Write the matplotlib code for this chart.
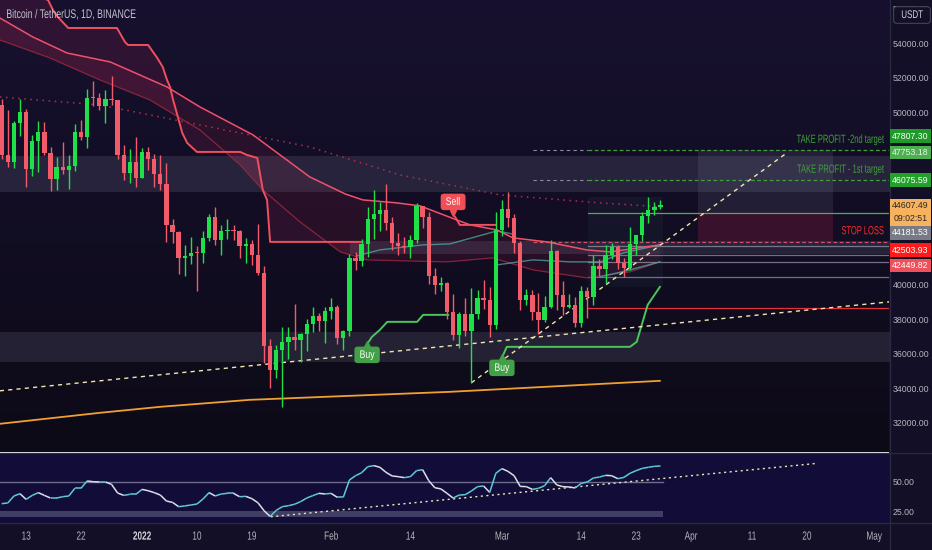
import numpy as np
import pandas as pd
import matplotlib
matplotlib.use("Agg")
import matplotlib.pyplot as plt
from matplotlib.collections import LineCollection
from matplotlib.colors import LinearSegmentedColormap
from matplotlib.lines import Line2D
from matplotlib.patches import Rectangle
from matplotlib.patheffects import AbstractPathEffect
from matplotlib.transforms import Affine2D, offset_copy

# ---- data -----------------------------------------------------------------
BASE = pd.Timestamp("2021-12-09")
DATES = pd.date_range(BASE, "2022-03-27", freq="D")

OPEN = [50441, 47545, 47140, 49389, 50054, 46702, 48343, 48864, 47632, 46131,
        46834, 46681, 46914, 48889, 48588, 50838, 50820, 50400, 50775, 50701,
        47543, 46464, 47120, 46216, 47722, 47286, 46446, 45832, 43451, 43082,
        41566, 41679, 41864, 41822, 42735, 43949, 42592, 43099, 43177, 43113,
        42250, 42375, 41744, 40680, 36445, 35071, 36244, 36660, 36958, 36809,
        37161, 37712, 38166, 37882, 38466, 38690, 36896, 37311, 41574, 41382,
        42380, 43840, 44118, 44338, 43565, 42407, 42244, 42197, 42586, 44575,
        43961, 40538, 40000, 40121, 38431, 37075, 38286, 37296, 38328, 39219,
        39116, 37699, 43160, 44421, 43892, 42454, 39148, 39397, 38420, 37988,
        38730, 41941, 39422, 38729, 38807, 37777, 39671, 39280, 41114, 40917,
        41757, 42201, 41262, 41002, 42364, 42882, 43991, 44313, 44511]
HIGH = [50797, 50125, 49485, 50777, 50189, 48700, 49500, 49436, 47995, 47392,
        48300, 47537, 49328, 49576, 51375, 51810, 51156, 51280, 52088, 50704,
        48139, 47900, 48548, 47954, 47990, 47570, 47505, 47070, 43816, 43145,
        42300, 42786, 42248, 43100, 44135, 44500, 43448, 43800, 43475, 43185,
        42690, 42579, 43505, 41100, 36835, 36499, 37550, 37545, 38919, 37234,
        38000, 38720, 38359, 38744, 39265, 38855, 37387, 41772, 41913, 42657,
        44500, 45492, 44799, 45821, 43920, 43000, 42760, 42876, 44775, 44583,
        44200, 40959, 40444, 40140, 39494, 38429, 39249, 39843, 39683, 40300,
        39855, 44225, 44949, 45400, 44101, 42527, 39750, 39693, 39547, 39362,
        42594, 42039, 40236, 39486, 39309, 39947, 39887, 41718, 41478, 42325,
        42400, 42296, 41544, 43361, 42893, 44220, 45094, 44792, 44950]
LOW = [47320, 46852, 46751, 48638, 45672, 46290, 46547, 47511, 45456, 45500,
       46406, 45558, 46630, 48421, 47920, 50384, 50142, 49412, 50449, 47313,
       46096, 45900, 45678, 46208, 46654, 45696, 45502, 42500, 42430, 40610,
       40501, 41200, 39650, 41268, 42529, 42311, 41725, 42650, 42581, 41540,
       41250, 41138, 40553, 35440, 34008, 34601, 32917, 35701, 36234, 35507,
       36155, 37268, 37351, 36632, 38000, 36586, 36250, 37026, 40843, 41116,
       41645, 42666, 43117, 43187, 42000, 41748, 41870, 41570, 42427, 43310,
       40073, 39450, 39639, 38000, 36800, 36350, 37036, 34322, 38014, 38600,
       37000, 37450, 42809, 43334, 41832, 38550, 38813, 37986, 37155, 37867,
       38656, 38539, 38224, 38660, 37578, 37555, 38098, 38828, 40500, 40135,
       41499, 40911, 40467, 40875, 41751, 42565, 43579, 44071, 44421]
CLOSE = [47545, 47140, 49389, 50054, 46702, 48343, 48864, 47632, 46131, 46834,
         46681, 46914, 48889, 48588, 50838, 50820, 50400, 50775, 50701, 47543,
         46464, 47120, 46216, 47722, 47286, 46446, 45832, 43451, 43082, 41566,
         41679, 41864, 41822, 42735, 43949, 42592, 43099, 43177, 43113, 42250,
         42375, 41744, 40680, 36445, 35071, 36244, 36660, 36958, 36809, 37161,
         37712, 38166, 37882, 38466, 38690, 36896, 37311, 41574, 41382, 42380,
         43840, 44118, 44338, 43565, 42407, 42244, 42197, 42586, 44575, 43961,
         40538, 40000, 40121, 38431, 37075, 38286, 37296, 38328, 39219, 39116,
         37699, 43160, 44421, 43892, 42454, 39148, 39397, 38420, 37988, 38730,
         41941, 39422, 38729, 38807, 37777, 39671, 39280, 41114, 40917, 41757,
         42201, 41262, 41002, 42364, 42882, 43991, 44313, 44511, 44607.49]
RSI = [31.7, 32.3, 38.1, 40.0, 35.3, 38.6, 40.9, 38.6, 36.4, 36.4,
       37.5, 38.1, 44.5, 44.5, 50.6, 50.0, 49.8, 49.8, 47.8, 40.6,
       38.6, 39.5, 39.5, 43.6, 42.5, 40.9, 38.9, 33.9, 32.8, 29.2,
       29.8, 30.6, 31.4, 35.6, 40.9, 38.1, 39.8, 40.3, 40.3, 37.5,
       37.8, 35.9, 32.5, 25.9, 21.1, 26.1, 29.2, 30.0, 31.2, 33.4,
       36.4, 38.4, 40.3, 39.8, 40.3, 37.0, 37.0, 51.4, 55.0, 57.5,
       62.5, 63.4, 62.0, 57.8, 54.8, 54.2, 53.4, 54.2, 59.2, 60.0,
       50.9, 45.0, 44.0, 40.3, 36.4, 38.9, 39.2, 42.3, 45.9, 46.4,
       41.1, 57.0, 60.9, 58.6, 55.0, 46.1, 45.9, 43.6, 44.5, 46.7,
       53.4, 47.3, 45.9, 45.6, 44.8, 48.6, 49.8, 53.1, 53.9, 55.3,
       55.0, 52.5, 53.6, 57.0, 59.2, 61.1, 62.0, 62.8, 63.1]

# indicator lines, x = days since BASE
TRAIL_DN_DAYS = [-0.3, 7.6, 8.4, 9.2, 10.9, 18.9, 20.2, 20.7, 24.0, 25.5, 26.4, 27.1,
                 27.6, 28.1, 28.7, 29.6, 30.4, 32.0, 39.1, 40.2, 41.9, 42.8, 43.5, 44.0, 59.1]
TRAIL_DN_VALS = [57500, 56521, 55942, 55536, 54898, 54898, 54087, 53913, 53913, 53159, 52637,
                 51884, 51478, 50724, 49971, 48811, 48232, 47710, 47710, 47536, 47362, 45507,
                 44927, 42493, 42493]
TRAIL_DN2_DAYS = [74.3, 75.1, 81.0]
TRAIL_DN2_VALS = [43960, 43478, 43478]
TRAIL_UP1_DAYS = [60.05, 60.7, 62.0, 63.2, 68.1, 69.1, 73.2]
TRAIL_UP1_VALS = [36638, 36986, 37391, 37855, 37855, 38261, 38261]
TRAIL_UP2_DAYS = [82.0, 82.8, 103.0, 104.1, 105.9, 107.9]
TRAIL_UP2_VALS = [35768, 36406, 36406, 36696, 38841, 39884]

MA_FAST_DAYS = [-0.3, 5.1, 10.7, 17.8, 27.1, 32.5, 41.2, 50.5, 56.3, 59.2, 64.8, 68.6,
                74.6, 76.8, 81.2, 83.8, 89.4, 95.9, 99.7, 107.9]
MA_FAST_VALS = [55478, 54377, 53449, 52928, 51478, 50319, 48696, 46261, 45275, 44927, 44754,
                44580, 43768, 43478, 43188, 42725, 42493, 42029, 41913, 42319]
MA_SLOW_DAYS = [-0.3, 7.9, 16.1, 24.3, 32.5, 39.1, 42.8, 48.9, 55.5, 59.9, 73.0, 80.5,
                87.1, 95.9, 103.0, 107.9]
MA_SLOW_VALS = [54203, 53159, 51884, 50724, 48985, 46956, 45507, 43652, 41913, 41449, 41333,
                41565, 40870, 40406, 40754, 41333]
MA_DOT_DAYS = [-0.3, 16.1, 32.5, 50.5, 65.3, 81.7, 98.1, 108.3]
MA_DOT_VALS = [50898, 50435, 49275, 48000, 46377, 45217, 44754, 44522]
TEAL1_DAYS = [58.2, 62.0, 69.1, 73.5, 81.2, 83.7]
TEAL1_VALS = [41681, 42029, 42319, 42377, 43130, 42956]
TEAL2_DAYS = [81.2, 87.1, 93.2, 98.1, 101.9, 107.9]
TEAL2_VALS = [41159, 41449, 41333, 41333, 41855, 42319]
TEAL3_DAYS = [98.1, 103.0, 107.9]
TEAL3_VALS = [40464, 40870, 41333]
ORANGE_DAYS = [-0.3, 16.1, 26.0, 40.7, 48.9, 73.5, 107.9]
ORANGE_VALS = [31942, 32580, 32928, 33333, 33449, 33797, 34435]

TREND1_DAYS = [-0.3, 145.5]
TREND1_VALS = [33855, 39014]
TREND2_DAYS = [77, 128.7]
TREND2_VALS = [34322, 47652]
RSI_TREND_DAYS = [44.1, 133.7]
RSI_TREND_VALS = [20.8, 65.3]

SIGNALS = [("Buy", 59.9, 35942), ("Sell", 74.0, 44812), ("Buy", 82.0, 35188)]

ZONES = [(-0.3, 45391, 47478), (-0.3, 35536, 37275), (57.1, 41797, 42551)]
TP2, TP2B, TP1 = 47807.30, 47753.18, 46075.59
ENTRY, LAST = 44181.53, 44607.49
SL, SL2 = 42503.93, 42449.82
GRAY_LEVELS = [42260, 41740, 41330, 40480]
RED_LEVEL = 38680
LEVEL_START, LEVEL_PRE = 96.1, 87.1
POS_START, POS_END = 114.1, 136.3

PRICE_TICKS = [32000, 34000, 36000, 38000, 40000, 50000, 52000, 54000, 56000]
TICK_DATES = ["2021-12-13", "2021-12-22", "2022-01-01", "2022-01-10", "2022-01-19",
              "2022-02-01", "2022-02-14", "2022-03-01", "2022-03-14", "2022-03-23",
              "2022-04-01", "2022-04-11", "2022-04-20", "2022-05-01"]
TICK_LABELS = ["13", "22", "2022", "10", "19", "Feb", "14", "Mar", "14", "23",
               "Apr", "11", "20", "May"]


# ---- narrow text (the chart uses a condensed face) ---------------------------
class Condense(AbstractPathEffect):
    def __init__(self, sx=0.66, anchor="left"):
        super().__init__()
        self.sx, self.anchor = sx, anchor

    def draw_path(self, renderer, gc, tpath, affine, rgbFace=None):
        ext = tpath.get_extents()
        x0 = {"left": ext.x0, "right": ext.x1, "center": 0.5 * (ext.x0 + ext.x1)}[self.anchor]
        t = Affine2D().translate(-x0, 0).scale(self.sx, 1).translate(x0, 0) + affine
        renderer.draw_path(gc, tpath, t, rgbFace)


def narrow(anchor, sx=0.66):
    return [Condense(sx, anchor)]


# ---- style ----------------------------------------------------------------
plt.rcParams["font.family"] = ["Liberation Sans", "DejaVu Sans"]
TXT = "#b2b5be"
UP, DOWN = "#1fe048", "#f25c6a"
BG = "#130f26"
FS = 8.5
SCALE_FS = 6.3

W, H = 932, 550
fig = plt.figure(figsize=(W / 100, H / 100), dpi=100, facecolor=BG)
ax = fig.add_axes([0, (H - 452.5) / H, 889 / W, 452.5 / H])
rs = fig.add_axes([0, (H - 523) / H, 889 / W, 69.5 / H], sharex=ax)
ax.set_xlim(-0.28, 145.46)
ax.set_ylim(30278, 56521)
rs.set_ylim(15.6, 73.5)

grad = LinearSegmentedColormap.from_list("bg", ["#0d0a17", "#17112f"])
ax.imshow(np.linspace(0, 1, 256).reshape(-1, 1), cmap=grad, origin="lower",
          extent=(0, 1, 0, 1), transform=ax.transAxes, aspect="auto", zorder=0)
rs.set_facecolor("#110d38")

d = np.array([(t - BASE).days for t in DATES])
o, h, l, c = map(np.array, (OPEN, HIGH, LOW, CLOSE))

# background fills from the indicators
ax.fill(np.r_[TRAIL_DN_DAYS, MA_SLOW_DAYS[:10][::-1]],
        np.r_[TRAIL_DN_VALS, MA_SLOW_VALS[:10][::-1]],
        color="#6a1c45", alpha=0.3, lw=0, zorder=1)
ax.fill(np.r_[MA_FAST_DAYS, MA_SLOW_DAYS[::-1]], np.r_[MA_FAST_VALS, MA_SLOW_VALS[::-1]],
        color="#d8304f", alpha=0.11, lw=0, zorder=1)

# zones
for x0, lo, hi in ZONES:
    ax.fill_between([x0, 146], lo, hi, color="#b8b8d8", alpha=0.13, lw=0, zorder=1.2)
ax.fill_between([POS_START, POS_END], ENTRY, TP2, color="#9aa0b8", alpha=0.12, lw=0, zorder=1.3)
ax.fill_between([POS_START, POS_END], SL, ENTRY, color="#b0204a", alpha=0.25, lw=0, zorder=1.3)
ax.fill_between([LEVEL_START, 108.4], 39884, 45101, color="#5aa0a8", alpha=0.06, lw=0, zorder=1.3)

# levels
for lvl in (TP2, TP1):
    ax.plot([LEVEL_PRE, LEVEL_START], [lvl, lvl], color="#8a8aa0", lw=0.8, ls=(0, (3, 3)), zorder=2)
    ax.plot([LEVEL_START, 146], [lvl, lvl], color="#3fa03a", lw=0.9, ls=(0, (3, 2)), zorder=2)
ax.plot([LEVEL_PRE, 146], [SL, SL], color="#d0506a", lw=0.9, ls=(0, (3, 2)), zorder=2)
ax.plot([LEVEL_START, 146], [ENTRY, ENTRY], color="#4caf50", lw=0.9, zorder=2)
for lvl in GRAY_LEVELS:
    ax.plot([LEVEL_START, 146], [lvl, lvl], color="#9a9ab4", lw=0.9, alpha=0.7, zorder=2)
ax.plot([LEVEL_START, 146], [RED_LEVEL, RED_LEVEL], color="#e0303a", lw=0.9, zorder=2)

# indicator lines
ax.plot(MA_DOT_DAYS, MA_DOT_VALS, color="#b03048", lw=1.1, ls=(0, (1, 3)), zorder=2)
ax.plot(MA_SLOW_DAYS, MA_SLOW_VALS, color="#a02840", lw=0.9, alpha=0.8, zorder=2)
ax.plot(MA_FAST_DAYS, MA_FAST_VALS, color="#f0506a", lw=1.1, zorder=2.1)
for xs, ys in ((TEAL1_DAYS, TEAL1_VALS), (TEAL2_DAYS, TEAL2_VALS), (TEAL3_DAYS, TEAL3_VALS)):
    ax.plot(xs, ys, color="#4db6ac", lw=1, alpha=0.7, zorder=2)
ax.plot(TRAIL_DN_DAYS, TRAIL_DN_VALS, color="#f0505e", lw=1.4, zorder=2.2)
ax.plot(TRAIL_DN2_DAYS, TRAIL_DN2_VALS, color="#f0505e", lw=1.4, zorder=2.2)
ax.plot(TRAIL_UP1_DAYS, TRAIL_UP1_VALS, color="#4cc55a", lw=1.4, zorder=2.2)
ax.plot(TRAIL_UP2_DAYS, TRAIL_UP2_VALS, color="#4cc55a", lw=1.4, zorder=2.2)
ax.plot(ORANGE_DAYS, ORANGE_VALS, color="#f0a030", lw=1.3, zorder=2)
ax.plot(TREND1_DAYS, TREND1_VALS, color="#f3e6b0", lw=1, ls=(0, (3, 3)), zorder=2.3)
ax.plot(TREND2_DAYS, TREND2_VALS, color="#f3e6b0", lw=1, ls=(0, (3, 3)), zorder=2.3)

# candles
up = c >= o
col = np.where(up, UP, DOWN)
ax.vlines(d, l, h, colors=col, lw=1, zorder=3)
ax.bar(d, np.maximum(np.abs(c - o), 60), bottom=np.minimum(o, c), width=0.7,
       color=col, lw=0, zorder=3.1)

# buy / sell labels
for name, x, y in SIGNALS:
    fc = "#43a047" if name == "Buy" else "#ef4f55"
    ax.text(x, y, name, ha="center", va="center", color="white", fontsize=7.8,
            path_effects=narrow("center", 0.8), zorder=6,
            bbox=dict(boxstyle="round,pad=0.3", fc=fc, ec="none"))
    dy = 8 if name == "Buy" else -8
    tr = offset_copy(ax.transData, fig=fig, x=0, y=dy, units="points")
    ax.plot([x], [y], marker="^" if name == "Buy" else "v", ms=4, color=fc,
            transform=tr, zorder=6, clip_on=False)

# target texts
for txt, lvl, colr in (("TAKE PROFIT -2nd target", TP2, "#3fa03a"),
                       ("TAKE PROFIT - 1st target", TP1, "#3fa03a"),
                       ("STOP LOSS", SL, "#ff2a2a")):
    ax.annotate(txt, xy=(144.5, lvl), xytext=(0, 7.5), textcoords="offset points",
                ha="right", va="center", color=colr, fontsize=FS,
                path_effects=narrow("right", 0.64), zorder=6)

# rsi pane
rd = np.array(RSI)
pts = np.column_stack([d, rd])
segs = np.stack([pts[:-1], pts[1:]], axis=1)
seg_col = ["#5ec9d6" if rd[i + 1] >= rd[i] else "#dcdcec" for i in range(len(rd) - 1)]
rs.add_collection(LineCollection(segs, colors=seg_col, lw=1.1, zorder=3))
rs.plot([-0.3, 108.4], [50, 50], color="#6e6e8c", lw=1, zorder=2)
rs.fill_between([-0.3, 108.4], 20.6, 25.6, color="#9a9ab8", alpha=0.35, lw=0, zorder=1)
rs.plot(RSI_TREND_DAYS, RSI_TREND_VALS, color="#f3e6b0", lw=1, ls=(0, (1.5, 2.5)), zorder=2.5)

# axes, ticks
for a in (ax, rs):
    for s in a.spines.values():
        s.set_visible(False)
    a.yaxis.tick_right()
    a.tick_params(axis="y", length=0, pad=2.5, labelcolor=TXT, labelsize=SCALE_FS)
ax.set_yticks(PRICE_TICKS)
ax.set_yticklabels([f"{v:.2f}" for v in PRICE_TICKS])
ax.tick_params(axis="x", bottom=False, labelbottom=False)
rs.set_yticks([25, 50])
rs.set_yticklabels(["25.00", "50.00"])
rs.set_xticks([(pd.Timestamp(t) - BASE).days for t in TICK_DATES])
rs.set_xticklabels(TICK_LABELS)
rs.tick_params(axis="x", length=0, pad=5.5, labelcolor=TXT, labelsize=FS)
for lab in rs.get_xticklabels():
    lab.set_path_effects(narrow("center", 0.7))
    if lab.get_text() == "2022":
        lab.set_fontweight("bold")
        lab.set_color("#d1d4dc")

# price scale labels (boxes on the scale, shifted apart like the platform does)
PRICE_LABELS = [(f"{TP2:.2f}", TP2, "#1f9a2a", "white", 14.2),
                (f"{TP2B:.2f}", TP2B, "#4caf50", "#e8f5e9", -1.4),
                (f"{TP1:.2f}", TP1, "#22a02a", "white", 0),
                (f"{LAST:.2f}", LAST, "#f7b25e", "#2a2a2a", 0),
                ("09:02:51", LAST, "#f7b25e", "#2a2a2a", -13.5),
                (f"{ENTRY:.2f}", ENTRY, "#787b86", "white", -20),
                (f"{SL:.2f}", SL, "#ff1a1a", "white", -8.5),
                (f"{SL2:.2f}", SL2, "#f0505c", "white", -23)]
for txt, val, fc, tc, shift in PRICE_LABELS:
    ypix = ax.transData.transform((0, val))[1] + shift
    fig.add_artist(Rectangle((890 / W, (ypix - 6.8) / H), 41 / W, 13.6 / H,
                             transform=fig.transFigure, fc=fc, ec="none", zorder=7))
    fig.text(910.5 / W, ypix / H, txt, ha="center", va="center", color=tc,
             fontsize=SCALE_FS, zorder=8)

fig.text(912 / W, 1 - 15 / H, "USDT", ha="center", va="center", color="#d1d4dc",
         fontsize=8, path_effects=narrow("center", 0.72), zorder=8,
         bbox=dict(boxstyle="round,pad=0.3", fc=BG, ec="#434651", lw=0.8))
fig.text(6 / W, 1 - 15 / H, "Bitcoin / TetherUS, 1D, BINANCE", ha="left", va="center",
         color="#c3c3cc", fontsize=9, path_effects=narrow("left", 0.7))

for y in (453, 523):
    fig.add_artist(Line2D([0, 1], [1 - y / H] * 2, color="#2a2840", lw=1))
fig.add_artist(Line2D([889.5 / W] * 2, [0, 1], color="#2a2840", lw=1))

fig.savefig("out.png", dpi=100, facecolor=BG)
